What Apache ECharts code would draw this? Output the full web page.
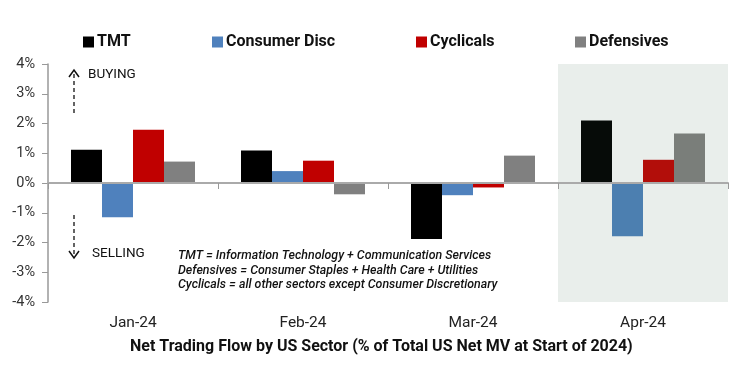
<!DOCTYPE html>
<html><head><meta charset="utf-8">
<script src="https://cdn.jsdelivr.net/npm/echarts@6/dist/echarts.min.js"></script>
<style>html,body{margin:0;padding:0;background:#fff}#c{width:745px;height:376px}</style>
</head><body><div id="c"></div>
<script>
const categories = ['Jan-24', 'Feb-24', 'Mar-24', 'Apr-24'];
const tmt = [1.12, 1.09, -1.88, 2.10];
const consumerDisc = [-1.15, 0.40, -0.41, -1.79];
const cyclicals = [1.79, 0.75, -0.15, 0.78];
const defensives = [0.72, -0.38, 0.92, 1.66];
const yTicks = [-4, -3, -2, -1, 0, 1, 2, 3, 4];

const baseColors = ['#000000', '#4f81bd', '#c00000', '#808080'];
const aprColors = ['#060b08', '#4c7fb0', '#b20e0a', '#7a7e7a'];
const names = ['TMT', 'Consumer Disc', 'Cyclicals', 'Defensives'];
const values = [tmt, consumerDisc, cyclicals, defensives];
const legendLefts = [78, 207, 411, 570];

const chart = echarts.init(document.getElementById('c'));
const series = values.map((arr, i) => ({
  name: names[i],
  type: 'bar',
  xAxisIndex: 0,
  barWidth: 31,
  barGap: '0%',
  itemStyle: { color: baseColors[i] },
  data: arr.map((v, j) => j === 3 ? { value: v, itemStyle: { color: aprColors[i] } } : v),
  z: 3,
  markArea: i === 0 ? {
    silent: true,
    itemStyle: { color: '#e9eeeb' },
    data: [[{ xAxis: 'Apr-24', yAxis: 4 }, { xAxis: 'Apr-24', yAxis: -4 }]]
  } : undefined
}));

chart.setOption({
  animation: false,
  backgroundColor: '#fff',
  textStyle: { fontFamily: 'Roboto' },
  title: {
    text: 'Net Trading Flow by US Sector (% of Total US Net MV at Start of 2024)',
    left: 125, top: 334,
    textStyle: { fontFamily: 'Roboto', fontWeight: 'bold', fontSize: 16, color: '#111' }
  },
  legend: names.map((n, i) => ({
    left: legendLefts[i], top: 29,
    itemWidth: 11, itemHeight: 11,
    icon: 'rect',
    textStyle: { fontFamily: 'Roboto', fontWeight: 'bold', fontSize: 16, color: '#111', padding: [0, 0, 0, -2] },
    data: [n]
  })),
  grid: { left: 48, right: 17, top: 64, bottom: 74 },
  xAxis: [{
    type: 'category',
    data: categories,
    position: 'bottom',
    axisLine: { show: false, onZero: false },
    axisTick: { show: false },
    axisLabel: { fontFamily: 'Roboto', fontSize: 15.5, color: '#222', margin: 13 }
  }, {
    type: 'category',
    data: categories,
    position: 'top',
    axisLine: { show: true, onZero: true, lineStyle: { color: '#aaaaaa', width: 2 } },
    axisTick: { show: true, inside: true, length: 6, lineStyle: { color: '#999' } },
    axisLabel: { show: false },
    z: 5
  }],
  yAxis: {
    type: 'value',
    min: -4, max: 4, interval: 1,
    axisLine: { show: true, lineStyle: { color: '#999999', width: 1.5 } },
    axisTick: { show: true, length: 6, lineStyle: { color: '#999' } },
    splitLine: { show: false },
    axisLabel: {
      fontFamily: 'Roboto', fontSize: 14.5, color: '#333', margin: 13,
      formatter: v => yTicks.includes(v) ? v + '%' : ''
    }
  },
  graphic: [
    { type: 'line', shape: { x1: 74, y1: 113, x2: 74, y2: 72 }, style: { stroke: '#111', lineWidth: 1.3, lineDash: [4, 3] } },
    { type: 'polyline', shape: { points: [[69, 77], [74, 70], [79, 77]] }, style: { stroke: '#111', lineWidth: 1.5, fill: null } },
    { type: 'text', left: 88, top: 68, style: { text: 'BUYING', font: '13.5px Roboto', fill: '#111' } },
    { type: 'line', shape: { x1: 74, y1: 215, x2: 74, y2: 256 }, style: { stroke: '#111', lineWidth: 1.3, lineDash: [4, 3] } },
    { type: 'polyline', shape: { points: [[69, 251], [74, 258], [79, 251]] }, style: { stroke: '#111', lineWidth: 1.5, fill: null } },
    { type: 'text', left: 92, top: 247, style: { text: 'SELLING', font: '13.5px Roboto', fill: '#111' } },
    { type: 'text', left: 178, top: 249, style: {
      text: 'TMT = Information Technology + Communication Services\nDefensives = Consumer Staples + Health Care + Utilities\nCyclicals = all other sectors except Consumer Discretionary',
      font: 'italic 500 12.4px Roboto', fill: '#111', lineHeight: 14.5 } }
  ],
  series: series
});
</script></body></html>
